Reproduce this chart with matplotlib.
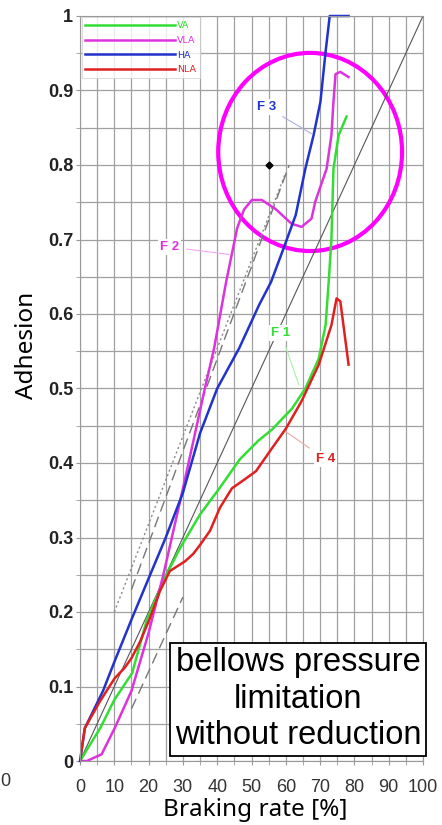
import matplotlib
matplotlib.use('Agg')
import matplotlib.pyplot as plt
from matplotlib.patches import Ellipse

# braking rate [%] vs adhesion
va_x = [0, 6, 10, 15.2, 19.4, 24.3, 29.2, 35, 40.8, 46.6, 52, 56, 61.8, 65.7, 69.6, 71.6, 72.5, 73.3, 73.9, 75.4, 77.7]
va_y = [0, 0.045, 0.082, 0.118, 0.188, 0.242, 0.286, 0.331, 0.367, 0.405, 0.43, 0.445, 0.473, 0.50, 0.54, 0.585, 0.643, 0.70, 0.795, 0.84, 0.865]

vla_x = [0, 2, 6.3, 10.1, 15, 20, 24.3, 29.2, 32.6, 36.4, 39.1, 42.6, 45.8, 47.8, 50.1, 53, 57, 61.7, 64.6, 67.5, 68.6, 71.9, 73.3, 73.9, 74.5, 75.9, 78.3]
vla_y = [0, 0, 0.009, 0.044, 0.094, 0.172, 0.25, 0.349, 0.42, 0.50, 0.554, 0.643, 0.715, 0.74, 0.753, 0.753, 0.741, 0.721, 0.717, 0.728, 0.751, 0.795, 0.84, 0.885, 0.922, 0.925, 0.918]

ha_x = [0, 1.4, 6.7, 10.1, 15.2, 20, 25, 30, 35, 40, 46.4, 52.2, 55.7, 59.5, 62.9, 65.7, 68.1, 70.1, 71.6, 72.8, 78.3]
ha_y = [0, 0.044, 0.094, 0.134, 0.192, 0.245, 0.30, 0.36, 0.44, 0.50, 0.554, 0.612, 0.643, 0.69, 0.733, 0.795, 0.84, 0.885, 0.952, 1.0, 1.0]

nla_x = [0, 1.4, 5.8, 10.1, 13, 15, 17.5, 20.4, 23.3, 26.2, 30.6, 33, 35, 37.9, 40.8, 44.3, 48, 51.3, 56, 60, 64.6, 69.6, 73.3, 74.8, 75.9, 78.3]
nla_y = [0, 0.044, 0.08, 0.111, 0.125, 0.138, 0.16, 0.192, 0.228, 0.255, 0.268, 0.278, 0.29, 0.309, 0.34, 0.366, 0.378, 0.389, 0.42, 0.446, 0.483, 0.532, 0.585, 0.621, 0.617, 0.532]

# reference lines
ref_x = [0, 100]
ref_y = [0, 1]
dot_x = [10, 60]
dot_y = [0.20, 0.79]
dash_x = [15, 61]
dash_y = [0.23, 0.80]
dash2_x = [15, 30]
dash2_y = [0.07, 0.22]

xticks = list(range(0, 101, 10))
yticks = [0, 0.1, 0.2, 0.3, 0.4, 0.5, 0.6, 0.7, 0.8, 0.9, 1]
ytick_labels = ['0', '0.1', '0.2', '0.3', '0.4', '0.5', '0.6', '0.7', '0.8', '0.9', '1']

c_va = '#33dd33'
c_vla = '#dd33dd'
c_ha = '#2233cc'
c_nla = '#e02020'

fig = plt.figure(figsize=(4.42, 8.25), dpi=100)
ax = fig.add_axes([80/442, 1-761/825, 343/442, 745/825])

ax.set_xlim(0, 100)
ax.set_ylim(0, 1)
ax.set_xticks(xticks)
ax.set_xticklabels([str(t) for t in xticks], fontsize=13, color='#333333', family='Liberation Sans')
ax.set_xticks(list(range(5, 100, 10)), minor=True)
ax.set_yticks(yticks)
ax.set_yticklabels(ytick_labels, fontsize=13, fontweight='bold', color='#222222', family='Liberation Sans')
ax.set_yticks([0.05 + i*0.1 for i in range(10)], minor=True)
ax.grid(True, which='both', color='#a0a0a0', linewidth=0.9)
ax.set_axisbelow(True)
ax.tick_params(which='both', length=3, color='#999999', pad=2)
ax.tick_params(axis='x', pad=10)
for s in ax.spines.values():
    s.set_color('#999999')

ax.plot(ref_x, ref_y, color='#555555', lw=0.8)
ax.plot(dot_x, dot_y, color='#888888', lw=1.0, ls=(0, (1.5, 2)))
ax.plot(dash_x, dash_y, color='#777777', lw=1.0, ls=(0, (8, 4)))
ax.plot(dash2_x, dash2_y, color='#777777', lw=1.0, ls=(0, (8, 4)))

ax.plot(va_x, va_y, color=c_va, lw=1.8, label='VA')
ax.plot(vla_x, vla_y, color=c_vla, lw=1.8, label='VLA')
ax.plot(ha_x, ha_y, color=c_ha, lw=1.8, label='HA', clip_on=False)
ax.plot(nla_x, nla_y, color=c_nla, lw=1.8, label='NLA')

ax.plot([55], [0.8], marker='D', color='black', ms=3.5)

ax.add_patch(Ellipse((67.1, 0.8175), 53.6, 0.266, fill=False, edgecolor='#ff00ff', lw=3, clip_on=False))

leg = ax.legend(loc='upper left', bbox_to_anchor=(0.005, 0.998), borderaxespad=0,
                fontsize=6.8, handlelength=9.5, handletextpad=0.2, labelspacing=0.6,
                frameon=True, fancybox=False, edgecolor='#cccccc', labelcolor='linecolor')
leg.get_frame().set_linewidth(0.6)

lab = dict(fontsize=9.5, fontweight='bold', family='Liberation Sans', ha='center', va='center',
           bbox=dict(boxstyle='square,pad=0.15', fc='white', ec='none'))
ax.annotate('F 3', xy=(67.5, 0.842), xytext=(54.3, 0.878), color=c_ha,
            arrowprops=dict(arrowstyle='-', color='#aab0e0', lw=0.8, shrinkA=4, shrinkB=0), **lab)
ax.annotate('F 2', xy=(43.5, 0.68), xytext=(26.1, 0.69), color=c_vla,
            arrowprops=dict(arrowstyle='-', color='#f0a8f0', lw=0.8, shrinkA=4, shrinkB=0), **lab)
ax.annotate('F 1', xy=(63.8, 0.505), xytext=(58.6, 0.574), color=c_va,
            arrowprops=dict(arrowstyle='-', color='#a8f0a8', lw=0.8, shrinkA=4, shrinkB=0), **lab)
ax.annotate('F 4', xy=(60, 0.442), xytext=(71.6, 0.405), color=c_nla,
            arrowprops=dict(arrowstyle='-', color='#f0a8a8', lw=0.8, shrinkA=4, shrinkB=0), **lab)

ax.text(63.6, 0.083, 'bellows pressure\nlimitation\nwithout reduction', fontsize=23.5,
        family='Liberation Sans', ha='center', va='center', linespacing=1.22, zorder=5,
        bbox=dict(boxstyle='square,pad=0.14', fc='white', ec='black', lw=1.3))

ax.set_xlabel('Braking rate [%]', fontsize=17.5, family='Noto Sans', va='center')
ax.set_ylabel('Adhesion', fontsize=17.5, family='Noto Sans', va='center')
ax.xaxis.set_label_coords(0.51, -0.066)
ax.yaxis.set_label_coords(-0.155, 0.558)

# cut-off tick label at the left edge
fig.text(0.001, 1-782/825, '0', fontsize=13, color='#333333', family='Liberation Sans', ha='left', va='center')

fig.savefig('out.png', dpi=100)
